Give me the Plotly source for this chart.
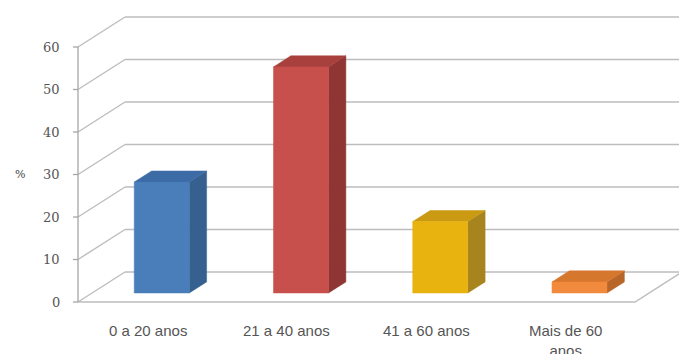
import plotly.graph_objects as go

# Age groups and their share (%)
categories = ["0 a 20 anos", "21 a 40 anos", "41 a 60 anos", "Mais de 60<br>anos"]
values = [26.1, 53.2, 16.8, 2.6]
y_ticks = [0, 10, 20, 30, 40, 50, 60]
y_tick_labels = ["0", "10", "20", "30", "40", "50", "60"]
axis_label = "%"

# Face colours per bar: front, side, top
front_colors = ["#4a7ebb", "#c8504c", "#e8b30f", "#f28a3e"]
side_colors = ["#36608f", "#8f3533", "#a8841f", "#b8652a"]
top_colors = ["#3d6ba5", "#a8403d", "#c99a12", "#d6772e"]

# Scale of the oblique projection (pixels per unit)
W, H = 679, 354
PX_SLOT = 139.25          # one category slot
PX_UNIT = 4.25            # one percentage point
ORIGIN = (78, 302)        # front bottom-left corner of the plot box
DEPTH = (47, -30)         # screen offset from front to back wall

DXu = DEPTH[0] / PX_SLOT
DYu = -DEPTH[1] / PX_UNIT
N = len(categories)
Y_MAX = y_ticks[-1]

BAR_W = 0.395             # bar width in slots
D0, D1 = 0.30, 0.67       # bar front/back depth fractions


def proj(x, y, d):
    return x + d * DXu, y + d * DYu


def px_dx(px):
    return px / PX_SLOT


def px_dy(px):
    return px / PX_UNIT


fig = go.Figure()


def add_lines(segments, color, width):
    xs, ys = [], []
    for seg in segments:
        for p in seg:
            xs.append(p[0])
            ys.append(p[1])
        xs.append(None)
        ys.append(None)
    fig.add_trace(go.Scatter(x=xs, y=ys, mode="lines",
                             line=dict(color=color, width=width),
                             hoverinfo="skip", showlegend=False))


def add_poly(pts, color):
    xs = [p[0] for p in pts] + [pts[0][0]]
    ys = [p[1] for p in pts] + [pts[0][1]]
    fig.add_trace(go.Scatter(x=xs, y=ys, mode="lines", fill="toself",
                             fillcolor=color, line=dict(color=color, width=0.5),
                             hoverinfo="skip", showlegend=False))


grid = "#bdbdbd"
# back wall gridlines
add_lines([[proj(0, v, 1), proj(N, v, 1)] for v in y_ticks], grid, 1.4)
# side wall gridlines
add_lines([[proj(0, v, 0), proj(0, v, 1)] for v in y_ticks], grid, 1.4)
# floor outline
add_lines([[proj(0, 0, 0), proj(N, 0, 0), proj(N, 0, 1)]], grid, 1.4)
# vertical axis with tick marks
add_lines([[proj(0, 0, 0), proj(0, Y_MAX, 0)]] +
          [[(-px_dx(5), v), (0, v)] for v in y_ticks], "#a6a6a6", 1.3)

# 3-D bars
for i, v in enumerate(values):
    xl = i + 0.5 - BAR_W / 2
    xr = i + 0.5 + BAR_W / 2
    add_poly([proj(xr, 0, D0), proj(xr, 0, D1), proj(xr, v, D1), proj(xr, v, D0)],
             side_colors[i])
    add_poly([proj(xl, v, D0), proj(xr, v, D0), proj(xr, v, D1), proj(xl, v, D1)],
             top_colors[i])
    add_poly([proj(xl, 0, D0), proj(xr, 0, D0), proj(xr, v, D0), proj(xl, v, D0)],
             front_colors[i])

annotations = []
for v, t in zip(y_ticks, y_tick_labels):
    annotations.append(dict(x=-px_dx(16), y=v, text=t, showarrow=False,
                            xanchor="right", yanchor="middle",
                            font=dict(family="DejaVu Serif", size=13, color="#555555")))
annotations.append(dict(x=-px_dx(58), y=30, text=axis_label, showarrow=False,
                        xanchor="center", yanchor="middle",
                        font=dict(family="DejaVu Serif", size=11, color="#444444")))
for i, c in enumerate(categories):
    annotations.append(dict(x=i + 0.5, y=-px_dy(18), text=c, showarrow=False,
                            xanchor="center", yanchor="top",
                            font=dict(family="Liberation Sans", size=15, color="#555555")))

fig.update_layout(
    width=W, height=H,
    margin=dict(l=0, r=0, t=0, b=0),
    paper_bgcolor="white", plot_bgcolor="white",
    xaxis=dict(range=[-ORIGIN[0] / PX_SLOT, (W - ORIGIN[0]) / PX_SLOT],
               visible=False, fixedrange=True),
    yaxis=dict(range=[(ORIGIN[1] - H) / PX_UNIT, ORIGIN[1] / PX_UNIT],
               visible=False, fixedrange=True),
    annotations=annotations,
    showlegend=False,
)

fig.write_html("out.html")
